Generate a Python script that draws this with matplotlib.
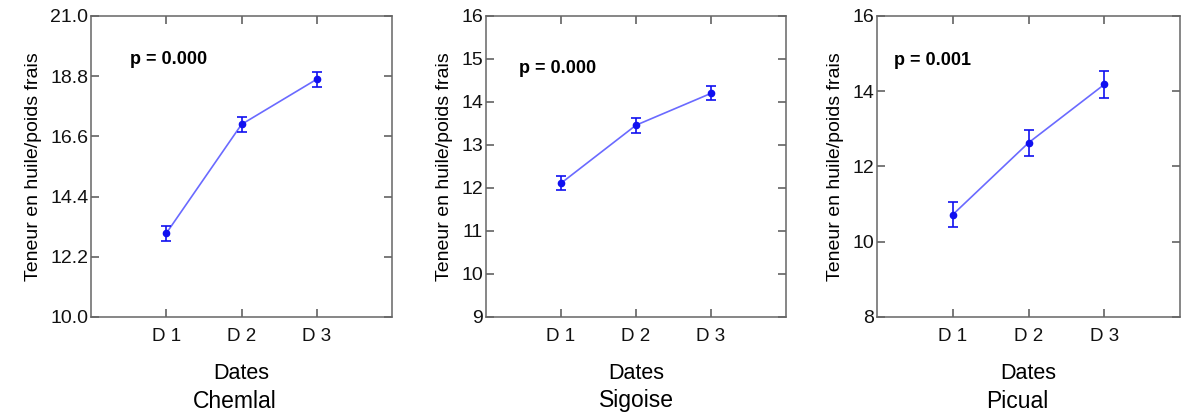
import numpy as np
import matplotlib
matplotlib.use('Agg')
import matplotlib.pyplot as plt

plt.rcParams['font.family'] = ['Liberation Sans', 'DejaVu Sans']

dates = ['D 1', 'D 2', 'D 3']
varieties = ['Chemlal', 'Sigoise', 'Picual']
p_values = ['p = 0.000', 'p = 0.000', 'p = 0.001']

chemlal_mean = [13.06, 17.04, 18.69]
chemlal_err = [0.27, 0.27, 0.27]
sigoise_mean = [12.11, 13.46, 14.20]
sigoise_err = [0.16, 0.17, 0.16]
picual_mean = [10.72, 12.63, 14.18]
picual_err = [0.34, 0.35, 0.35]

y_ticks = [
    [10.0, 12.2, 14.4, 16.6, 18.8, 21.0],
    [9, 10, 11, 12, 13, 14, 15, 16],
    [8, 10, 12, 14, 16],
]
y_fmt = ['{:.1f}', '{:.0f}', '{:.0f}']

means = [chemlal_mean, sigoise_mean, picual_mean]
errs = [chemlal_err, sigoise_err, picual_err]

# axes placement (figure fractions) and text positions
lefts = [0.0771, 0.4115, 0.7426]
widths = [0.2549, 0.2540, 0.2566]
p_pos = [(0.13, 0.857), (0.11, 0.824), (0.056, 0.853)]
title_x = [235, 636, 1017]

fig = plt.figure(figsize=(11.81, 4.16), dpi=100)
x = np.arange(1, len(dates) + 1)

for i in range(3):
    ax = fig.add_axes([lefts[i], 0.238, widths[i], 0.7236])
    ax.plot(x, means[i], color='#6a6aff', linewidth=1.2, zorder=2)
    ax.errorbar(x, means[i], yerr=errs[i], fmt='o', color='#1010f0',
                markersize=4.5, capsize=3.5, elinewidth=1.2, capthick=1.2,
                zorder=3)
    ax.set_xlim(0, 4)
    ax.set_ylim(y_ticks[i][0], y_ticks[i][-1])
    ax.set_xticks(x)
    ax.set_xticklabels(dates, fontsize=13.5)
    ax.set_yticks(y_ticks[i])
    ax.set_yticklabels([y_fmt[i].format(v) for v in y_ticks[i]], fontsize=14)
    ax.tick_params(direction='in', top=True, right=True, length=6,
                   width=1.1, color='#555555', labelcolor='#111111')
    ax.tick_params(axis='x', pad=8)
    ax.tick_params(axis='y', pad=2)
    for s in ax.spines.values():
        s.set_color('#666666')
        s.set_linewidth(1.1)
    ax.set_xlabel('Dates', fontsize=15.5, labelpad=13)
    ax.set_ylabel('Teneur en huile/poids frais', fontsize=14, labelpad=6)
    ax.text(p_pos[i][0], p_pos[i][1], p_values[i], transform=ax.transAxes,
            fontsize=13, fontweight='bold', va='center')
    fig.text(title_x[i] / 1181, 1 - 401 / 416, varieties[i],
             fontsize=16.5, ha='center', va='center')

fig.savefig('out.png', dpi=100)
